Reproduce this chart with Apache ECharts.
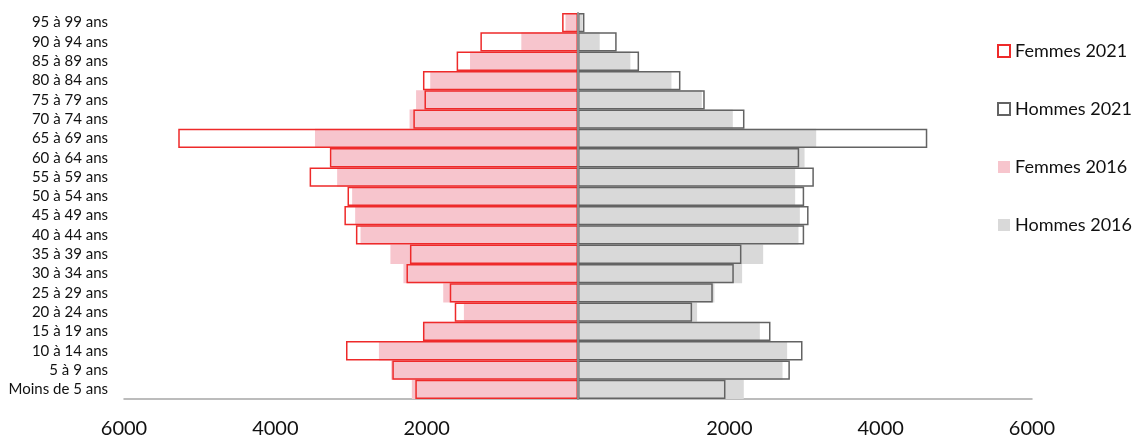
<!DOCTYPE html>
<html>
<head>
<meta charset="utf-8">
<script src="https://cdn.jsdelivr.net/npm/echarts@6/dist/echarts.min.js"></script>
<style>
	html, body { margin: 0; padding: 0; background: #fff; }
	#main { width: 1137px; height: 439px; }
</style>
</head>
<body>
<div id="main"></div>
<script>
// age groups, bottom to top
const ageGroups = [
	"Moins de 5 ans", "5 à 9 ans", "10 à 14 ans", "15 à 19 ans", "20 à 24 ans",
	"25 à 29 ans", "30 à 34 ans", "35 à 39 ans", "40 à 44 ans", "45 à 49 ans",
	"50 à 54 ans", "55 à 59 ans", "60 à 64 ans", "65 à 69 ans", "70 à 74 ans",
	"75 à 79 ans", "80 à 84 ans", "85 à 89 ans", "90 à 94 ans", "95 à 99 ans",
];

const femmes2021 = [2150, 2454, 3066, 2049, 1629, 1695, 2267, 2221, 2935, 3087,
	3046, 3547, 3279, 5283, 2176, 2029, 2049, 1604, 1290, 210];
const hommes2021 = [1949, 2800, 2967, 2544, 1508, 1781, 2059, 2160, 2989, 3047,
	2989, 3117, 2923, 4616, 2200, 1675, 1354, 807, 511, 85];
const femmes2016 = [2196, 2469, 2631, 2040, 1508, 1781, 2307, 2479, 2874, 2945,
	2985, 3183, 3260, 3476, 2226, 2140, 1953, 1427, 749, 165];
const hommes2016 = [2191, 2703, 2764, 2403, 1574, 1803, 2169, 2447, 2914, 2932,
	2870, 2870, 2994, 3148, 2046, 1636, 1235, 692, 287, 60];

const xTicks = [-6000, -4000, -2000, 0, 2000, 4000, 6000];

const FONT = "Lato";

const chart = echarts.init(document.getElementById("main"));

const neg = (arr) => arr.map((v) => -v);

const fillBar = (name, data, color) => ({
	name,
	type: "bar",
	data,
	barGap: "-100%",
	barCategoryGap: "0%",
	itemStyle: { color },
	silent: true,
});

const outlineBar = (name, data, color) => ({
	name,
	type: "bar",
	data,
	barGap: "-100%",
	barCategoryGap: "0%",
	z: 3,
	itemStyle: { color: "rgba(0,0,0,0)", borderColor: color, borderWidth: 1.5 },
	silent: true,
});

const option = {
	animation: false,
	textStyle: { fontFamily: FONT },
	legend: {
		orient: "vertical",
		left: 997,
		top: 42,
		padding: 0,
		icon: "rect",
		itemWidth: 12,
		itemHeight: 12,
		itemGap: 40,
		data: ["Femmes 2021", "Hommes 2021", "Femmes 2016", "Hommes 2016"],
		textStyle: { fontFamily: FONT, fontSize: 18, color: "#111" },
	},
	grid: { left: 124, width: 908, top: 13, height: 390 },
	xAxis: {
		type: "value",
		min: xTicks[0],
		max: xTicks[xTicks.length - 1],
		interval: 2000,
		axisLine: { show: true, lineStyle: { color: "#a6a6a6", width: 1.5 } },
		axisTick: { show: false },
		splitLine: { show: false },
		axisLabel: {
			margin: 20,
			fontFamily: FONT,
			fontSize: 20,
			color: "#111",
			formatter: (v) => (v === 0 ? "" : String(Math.abs(v))),
		},
	},
	yAxis: [
		{
			type: "category",
			data: ageGroups,
			axisLine: { show: false, onZero: false },
			axisTick: { show: false },
			axisLabel: { interval: 0, margin: 16, fontFamily: FONT, fontSize: 15, color: "#111" },
		},
		{
			type: "category",
			data: ageGroups,
			position: "left",
			z: 10,
			axisLine: { show: true, onZero: true, lineStyle: { color: "#8c8c8c", width: 2 } },
			axisTick: { show: false },
			axisLabel: { show: false },
		},
	],
	series: [
		fillBar("Femmes 2016", neg(femmes2016), "#f7c5cd"),
		fillBar("Hommes 2016", hommes2016, "#d9d9d9"),
		outlineBar("Femmes 2021", neg(femmes2021), "#ee2a2a"),
		outlineBar("Hommes 2021", hommes2021, "#636363"),
	],
};

chart.setOption(option);
</script>
</body>
</html>
